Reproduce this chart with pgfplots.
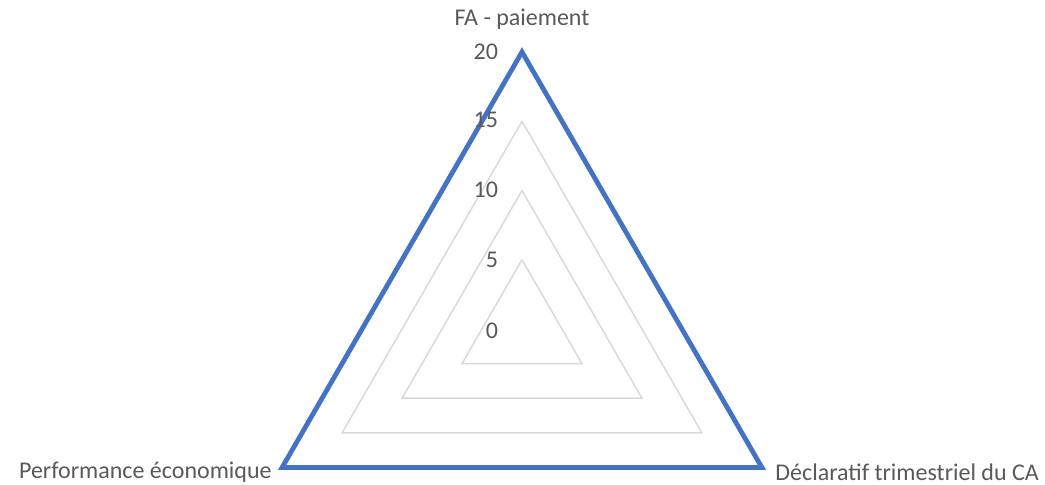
\documentclass[border=0pt]{standalone}
\usepackage{fontspec}
\setmainfont{Carlito}
\usepackage{pgfplots}
\pgfplotsset{compat=1.18}
\usepgfplotslibrary{polar}
\definecolor{series}{HTML}{4472C4}
\definecolor{gridc}{HTML}{D9D9D9}
\definecolor{txt}{HTML}{595959}

\begin{document}
\begin{tikzpicture}[x=1pt,y=1pt]
  \useasboundingbox (0,0) rectangle (522.5,242.5);
  \begin{polaraxis}[hide axis, clip=false, scale only axis,
    width=277pt, height=277pt, ymin=0, ymax=20,
    at={(261pt,78pt)}, anchor=center]
    % grid triangles
    \addplot[gridc, line width=0.75pt] coordinates {(90,5) (210,5) (330,5) (90,5)};
    \addplot[gridc, line width=0.75pt] coordinates {(90,10) (210,10) (330,10) (90,10)};
    \addplot[gridc, line width=0.75pt] coordinates {(90,15) (210,15) (330,15) (90,15)};
    % series
    \addplot[series, line width=2.4pt, line join=miter] coordinates {(90,20) (210,20) (330,20) (90,20) (210,20)};
  \end{polaraxis}
  \begin{scope}[every node/.style={text=txt, font=\fontsize{12}{14}\selectfont}]
    \node[anchor=east] at (252.5,216.5) {20};
    \node[anchor=east] at (252.5,182.5) {15};
    \node[anchor=east] at (252.5,147.5) {10};
    \node[anchor=east] at (252.5,112.5) {5};
    \node[anchor=east] at (252.5,77) {0};
    \node at (261,233) {FA - paiement};
    \node[anchor=east, inner xsep=0pt] at (136,6.5) {Performance économique};
    \node[anchor=west, inner xsep=0pt] at (387.5,6.5) {Déclaratif trimestriel du CA};
  \end{scope}
\end{tikzpicture}
\end{document}
